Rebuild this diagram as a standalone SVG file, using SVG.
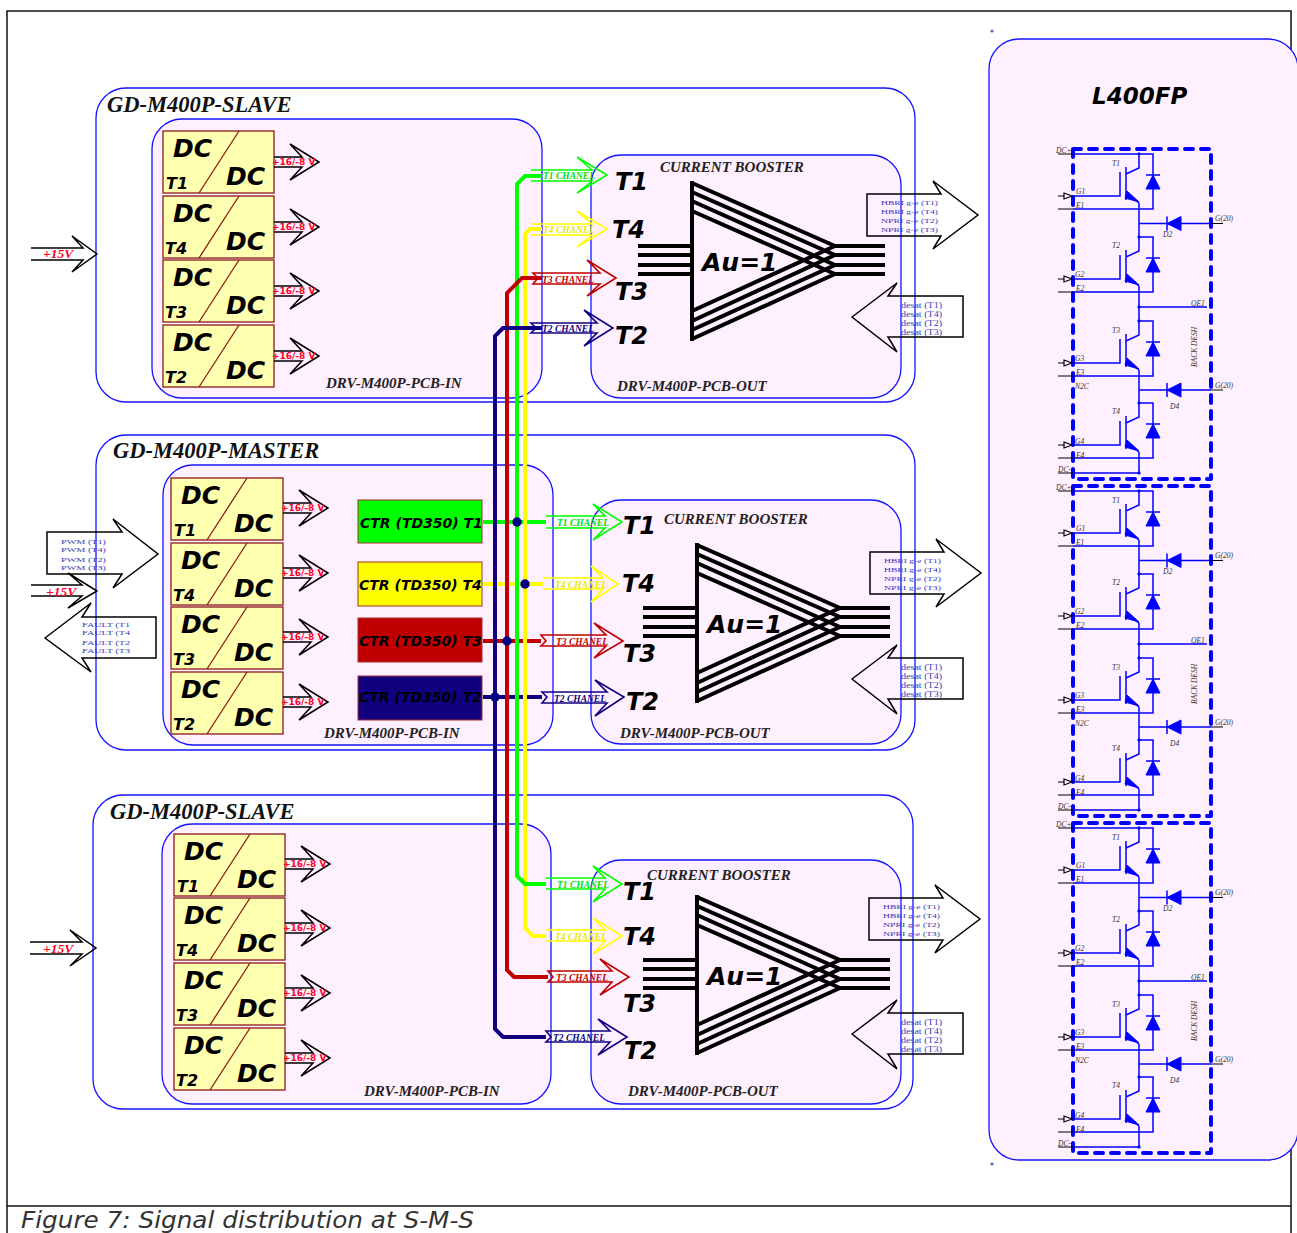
<svg xmlns="http://www.w3.org/2000/svg" width="1297" height="1233" viewBox="0 0 1297 1233">
<style>
.box{fill:#fff;stroke:#1414ff;stroke-width:1.3}
.pk{fill:#fff0ff;stroke:#1414ff;stroke-width:1.3}
.t{font-family:"Liberation Serif",serif;font-weight:bold;font-style:italic;fill:#111}
.title{font-size:22.5px}
.drv{font-size:15px;fill:#222}
.cb{font-size:15px;fill:#222}
.v{font-family:"DejaVu Sans",sans-serif;font-weight:bold;font-style:italic;fill:#000}
.dc{font-size:25px}
.tn{font-size:16px}
.big{font-size:24px}
.au{font-size:25px}
.ctr{font-size:14px}
.dcb{fill:#ffffb0;stroke:#8b1a1a;stroke-width:1.3}
.dia{stroke:#8b1a1a;stroke-width:1.3;fill:none}
.a{fill:none;stroke:#000;stroke-width:1.5}
.v16{font-family:"DejaVu Sans",sans-serif;font-weight:bold;font-size:9px;fill:#ff0028}
.v15{font-family:"Liberation Serif",serif;font-style:italic;font-weight:bold;font-size:13.5px;fill:#ff0028}
.sig{font-family:"Liberation Serif",serif;font-size:7px;fill:#3a3ab8}
.sd{font-size:8px}
.ch{font-family:"Liberation Serif",serif;font-weight:bold;font-style:italic;font-size:9.5px}
.w{fill:none;stroke-width:4;stroke-linejoin:miter}
.g{stroke:#00ff00;fill:none}.y{stroke:#ffff00;fill:none}.r{stroke:#c00000;fill:none}.n{stroke:#100080;fill:none}
.a2{stroke-width:1.6;fill:none}
.tri{stroke:#000;stroke-width:4;fill:none}
.b1{stroke:#0000ff;stroke-width:1.5;fill:none}
.k1{stroke:#000;stroke-width:1.2;fill:none}
.bf{fill:#0000ff;stroke:#0000ff;stroke-width:1}
.dash{fill:none;stroke:#0000ff;stroke-width:4;stroke-dasharray:8 8;stroke-linecap:round;stroke-linejoin:round}
.m{font-family:"Liberation Serif",serif;font-style:italic;font-size:7.5px;fill:#333}
</style>
<defs>
<path id="o16" class="a" d="M0,-5 H28 L16,-18 L45,0 L16,18 L28,5 H0"/>
<g id="booster">
<path class="tri" d="M692,181 V341 M638,246 H692 M638,255 H692 M638,265 H692 M638,274 H692 M835,246 H885 M835,255 H885 M835,265 H885 M835,274 H885 M692,183 L835,246 M692,192 L835,255 M692,201 L835,265 M692,211 L835,274 M692,339 L835,274 M692,330 L835,265 M692,321 L835,255 M692,311 L835,246"/>
</g>
<path id="outA" class="a" d="M867,194 H941 L933,181 L978,215 L933,249 L941,236 H867 Z"/>
<path id="desA" class="a" d="M852,317 L897,283 L888,296 H963 V337 H888 L897,352 Z"/>
<g id="igbt">
<path class="b1" d="M0,0 V14 L-13,20 M-13,13 V46 M-19,18 V42 H-66 M-13,39 L0,49 M0,0 H14 V55 H-66"/>
<path class="k1" d="M-81,42 H-75 M-75,39 L-67,42 L-75,45 Z M-81,55 H-66"/>
<path class="bf" d="M-12,37 L0,48 L-14,44 Z"/>
<path class="bf" d="M14,21 L21,35 H7 Z"/>
<path class="b1" d="M7,21 H21"/>
<circle class="bf" r="1.2"/>
</g>
<g id="diode"><path class="b1" d="M0,-7 V7"/><path class="bf" d="M0,0 L14,-7 V7 Z"/></g>
</defs>
<rect width="1297" height="1233" fill="#fff"/>
<path d="M7,1233 V11 H1291 V1233 M7,1206 H1291" fill="none" stroke="#111" stroke-width="1.5"/>
<text x="21" y="1227.500" font-family="'DejaVu Sans',sans-serif" font-style="italic" font-size="22.500" textLength="453" lengthAdjust="spacingAndGlyphs" fill="#333">Figure 7: Signal distribution at S-M-S</text>

<g id="slave1">
<rect class="box" x="96" y="88" width="819" height="314" rx="30"/>
<text class="t title" x="107" y="112">GD-M400P-SLAVE</text>
<rect class="pk" x="152" y="119" width="390" height="279" rx="30"/>
<text class="t drv" x="326" y="388">DRV-M400P-PCB-IN</text>
<rect class="pk" x="591" y="155" width="310" height="243" rx="30"/>
<text class="t drv" x="617" y="391">DRV-M400P-PCB-OUT</text>
<text class="t cb" x="660" y="172">CURRENT BOOSTER</text>
</g>
<g id="master">
<rect class="box" x="96" y="435" width="819" height="315" rx="30"/>
<text class="t title" x="113" y="458">GD-M400P-MASTER</text>
<rect class="pk" x="163" y="465" width="390" height="280" rx="30"/>
<text class="t drv" x="324" y="738">DRV-M400P-PCB-IN</text>
<rect class="pk" x="591" y="500" width="310" height="244" rx="30"/>
<text class="t drv" x="620" y="738">DRV-M400P-PCB-OUT</text>
<text class="t cb" x="664" y="524">CURRENT BOOSTER</text>
</g>
<g id="slave3">
<rect class="box" x="93" y="795" width="820" height="314" rx="30"/>
<text class="t title" x="110" y="819">GD-M400P-SLAVE</text>
<rect class="pk" x="162" y="824" width="389" height="280" rx="30"/>
<text class="t drv" x="364" y="1096">DRV-M400P-PCB-IN</text>
<rect class="pk" x="591" y="860" width="310" height="244" rx="30"/>
<text class="t drv" x="628" y="1096">DRV-M400P-PCB-OUT</text>
<text class="t cb" x="647" y="880">CURRENT BOOSTER</text>
</g>

<g id="dc-s1-t1" transform="translate(163,131)"><rect class="dcb" width="111" height="62"/><path class="dia" d="M36,62 L76,0"/><text class="v dc" x="10" y="26">DC</text><text class="v dc" x="63" y="54">DC</text><text class="v tn" x="3" y="58">T1</text><use href="#o16" x="111" y="31"/><text class="v16" x="109" y="34">+16/-8 V</text></g>
<g id="dc-s1-t4" transform="translate(163,196)"><rect class="dcb" width="111" height="62"/><path class="dia" d="M36,62 L76,0"/><text class="v dc" x="10" y="26">DC</text><text class="v dc" x="63" y="54">DC</text><text class="v tn" x="2" y="58">T4</text><use href="#o16" x="111" y="31"/><text class="v16" x="109" y="34">+16/-8 V</text></g>
<g id="dc-s1-t3" transform="translate(163,260)"><rect class="dcb" width="111" height="62"/><path class="dia" d="M36,62 L76,0"/><text class="v dc" x="10" y="26">DC</text><text class="v dc" x="63" y="54">DC</text><text class="v tn" x="2" y="58">T3</text><use href="#o16" x="111" y="31"/><text class="v16" x="109" y="34">+16/-8 V</text></g>
<g id="dc-s1-t2" transform="translate(163,325)"><rect class="dcb" width="111" height="62"/><path class="dia" d="M36,62 L76,0"/><text class="v dc" x="10" y="26">DC</text><text class="v dc" x="63" y="54">DC</text><text class="v tn" x="2" y="58">T2</text><use href="#o16" x="111" y="31"/><text class="v16" x="109" y="34">+16/-8 V</text></g>

<g id="dc-m-t1" transform="translate(171,478)"><rect class="dcb" width="112" height="62"/><path class="dia" d="M36,62 L76,0"/><text class="v dc" x="10" y="26">DC</text><text class="v dc" x="63" y="54">DC</text><text class="v tn" x="3" y="58">T1</text><use href="#o16" x="112" y="30"/><text class="v16" x="110" y="33">+16/-8 V</text></g>
<g id="dc-m-t4" transform="translate(171,543)"><rect class="dcb" width="112" height="62"/><path class="dia" d="M36,62 L76,0"/><text class="v dc" x="10" y="26">DC</text><text class="v dc" x="63" y="54">DC</text><text class="v tn" x="2" y="58">T4</text><use href="#o16" x="112" y="30"/><text class="v16" x="110" y="33">+16/-8 V</text></g>
<g id="dc-m-t3" transform="translate(171,607)"><rect class="dcb" width="112" height="62"/><path class="dia" d="M36,62 L76,0"/><text class="v dc" x="10" y="26">DC</text><text class="v dc" x="63" y="54">DC</text><text class="v tn" x="2" y="58">T3</text><use href="#o16" x="112" y="30"/><text class="v16" x="110" y="33">+16/-8 V</text></g>
<g id="dc-m-t2" transform="translate(171,672)"><rect class="dcb" width="112" height="62"/><path class="dia" d="M36,62 L76,0"/><text class="v dc" x="10" y="26">DC</text><text class="v dc" x="63" y="54">DC</text><text class="v tn" x="2" y="58">T2</text><use href="#o16" x="112" y="30"/><text class="v16" x="110" y="33">+16/-8 V</text></g>

<g id="dc-s3-t1" transform="translate(174,834)"><rect class="dcb" width="111" height="62"/><path class="dia" d="M36,62 L76,0"/><text class="v dc" x="10" y="26">DC</text><text class="v dc" x="63" y="54">DC</text><text class="v tn" x="3" y="58">T1</text><use href="#o16" x="111" y="30"/><text class="v16" x="109" y="33">+16/-8 V</text></g>
<g id="dc-s3-t4" transform="translate(174,898)"><rect class="dcb" width="111" height="62"/><path class="dia" d="M36,62 L76,0"/><text class="v dc" x="10" y="26">DC</text><text class="v dc" x="63" y="54">DC</text><text class="v tn" x="2" y="58">T4</text><use href="#o16" x="111" y="30"/><text class="v16" x="109" y="33">+16/-8 V</text></g>
<g id="dc-s3-t3" transform="translate(174,963)"><rect class="dcb" width="111" height="62"/><path class="dia" d="M36,62 L76,0"/><text class="v dc" x="10" y="26">DC</text><text class="v dc" x="63" y="54">DC</text><text class="v tn" x="2" y="58">T3</text><use href="#o16" x="111" y="30"/><text class="v16" x="109" y="33">+16/-8 V</text></g>
<g id="dc-s3-t2" transform="translate(174,1028)"><rect class="dcb" width="111" height="62"/><path class="dia" d="M36,62 L76,0"/><text class="v dc" x="10" y="26">DC</text><text class="v dc" x="63" y="54">DC</text><text class="v tn" x="2" y="58">T2</text><use href="#o16" x="111" y="30"/><text class="v16" x="109" y="33">+16/-8 V</text></g>

<g id="ctr-t1"><rect x="358" y="500" width="124" height="43" fill="#00ff00" stroke="#a03030"/><text class="v ctr" x="360" y="528">CTR (TD350) T1</text></g>
<g id="ctr-t4"><rect x="358" y="562" width="124" height="44" fill="#ffff00" stroke="#a03030"/><text class="v ctr" x="359" y="590">CTR (TD350) T4</text></g>
<g id="ctr-t3"><rect x="358" y="618" width="124" height="44" fill="#c00000" stroke="#a03030"/><text class="v ctr" x="359" y="646">CTR (TD350) T3</text></g>
<g id="ctr-t2"><rect x="358" y="676" width="124" height="44" fill="#100080" stroke="#a03030"/><text class="v ctr" x="359" y="702">CTR (TD350) T2</text></g>

<g id="connectors">
<path class="w g" d="M483,522 H546"/>
<path class="w y" d="M483,584 H543"/>
<path class="w r" d="M483,641 H541"/>
<path class="w n" d="M483,697 H542"/>
<path class="w y" d="M546,936 H533 L525,928 V234 L530,229 H542"/>
<path class="w g" d="M546,884 H525 L517,876 V184 L525,176 H542"/>
<path class="w r" d="M548,977 H514 L507,970 V293 L522,278 H542"/>
<path class="w n" d="M546,1037 H503 L495,1029 V336 L503,328 H542"/>
<g fill="#000080"><circle cx="517" cy="522" r="4.7"/><circle cx="525" cy="584" r="4.7"/><circle cx="507" cy="641" r="4.7"/><circle cx="495" cy="697" r="4.7"/></g>
</g>

<g id="inputs">
<path class="a" d="M31,248 H83 L72,236 L97,254 L72,272 L83,260 H31"/>
<text class="v15" x="43" y="258">+15V</text>
<path class="a" d="M31,585 H82 L68,573 L97,591 L68,608 L82,596 H31"/>
<text class="v15" x="46" y="596">+15V</text>
<path class="a" d="M30,942 H82 L70,930 L96,948 L70,966 L82,954 H30"/>
<text class="v15" x="43" y="953">+15V</text>
<path class="a" d="M47,532 H122 L113,519 L158,554 L113,588 L122,574 H47 Z"/>
<g class="sig"><text x="61" y="544" textLength="45" lengthAdjust="spacingAndGlyphs">PWM (T1)</text><text x="61" y="552" textLength="45" lengthAdjust="spacingAndGlyphs">PWM (T4)</text><text x="61" y="562" textLength="45" lengthAdjust="spacingAndGlyphs">PWM (T2)</text><text x="61" y="570" textLength="45" lengthAdjust="spacingAndGlyphs">PWM (T3)</text></g>
<path class="a" d="M45,638 L91,603 L82,617 H156 V658 H82 L91,672 Z"/>
<g class="sig"><text x="82" y="627" textLength="48" lengthAdjust="spacingAndGlyphs">FAULT (T1</text><text x="82" y="635" textLength="48" lengthAdjust="spacingAndGlyphs">FAULT (T4</text><text x="82" y="645" textLength="48" lengthAdjust="spacingAndGlyphs">FAULT (T2</text><text x="82" y="653" textLength="48" lengthAdjust="spacingAndGlyphs">FAULT (T3</text></g>
</g>

<g id="channels">
<path class="a2" stroke="#00ff00" d="M531,170 H592 L577,157 L607,175 L577,193 L592,181 H531"/>
<text class="ch" fill="#00e000" x="543" y="179">T1 CHANEL</text>
<path class="a2" stroke="#ffff00" d="M531,224 H592 L577,211 L607,229 L577,247 L592,235 H531"/>
<text class="ch" fill="#e8e800" x="543" y="233">T4 CHANEL</text>
<path class="a2" stroke="#c00000" d="M533,273 H600 L587,260 L616,278 L587,296 L600,284 H533 L538,278 Z"/>
<text class="ch" fill="#c00000" x="542" y="283">T3 CHANEL</text>
<path class="a2" stroke="#100080" d="M531,323 H597 L584,310 L613,328 L584,346 L597,333 H531 L536,328 Z"/>
<text class="ch" fill="#100080" x="542" y="332">T2 CHANEL</text>

<path class="a2" stroke="#00ff00" d="M546,516 H605 L593,504 L622,522 L593,540 L605,528 H546"/>
<text class="ch" fill="#00e000" x="557" y="526">T1 CHANEL</text>
<path class="a2" stroke="#ffff00" d="M543,578 H603 L591,566 L618,584 L591,602 L603,589 H543"/>
<text class="ch" fill="#e8e800" x="555" y="588">T4 CHANEL</text>
<path class="a2" stroke="#c00000" d="M541,635 H606 L594,623 L623,641 L594,658 L606,646 H541 L546,641 Z"/>
<text class="ch" fill="#c00000" x="556" y="645">T3 CHANEL</text>
<path class="a2" stroke="#100080" d="M542,692 H607 L595,680 L624,697 L595,716 L607,703 H542 L547,697 Z"/>
<text class="ch" fill="#100080" x="554" y="702">T2 CHANEL</text>

<path class="a2" stroke="#00ff00" d="M546,878 H605 L593,866 L622,884 L593,902 L605,889 H546"/>
<text class="ch" fill="#00e000" x="557" y="888">T1 CHANEL</text>
<path class="a2" stroke="#ffff00" d="M546,930 H605 L593,918 L622,936 L593,954 L605,941 H546"/>
<text class="ch" fill="#e8e800" x="555" y="940">T4 CHANEL</text>
<path class="a2" stroke="#c00000" d="M548,971 H612 L600,959 L629,977 L600,995 L612,982 H548 L553,977 Z"/>
<text class="ch" fill="#c00000" x="556" y="981">T3 CHANEL</text>
<path class="a2" stroke="#100080" d="M546,1031 H610 L598,1019 L627,1037 L598,1055 L610,1042 H546 L551,1037 Z"/>
<text class="ch" fill="#100080" x="553" y="1041">T2 CHANEL</text>
</g>

<g id="booster-1">
<use href="#booster"/>
<text class="v au" x="702" y="271">Au=1</text>
<text class="v big" x="615" y="190">T1</text><text class="v big" x="612" y="238">T4</text><text class="v big" x="615" y="300">T3</text><text class="v big" x="615" y="344">T2</text>
</g>
<g id="booster-2">
<use href="#booster" x="5" y="362"/>
<text class="v au" x="707" y="633">Au=1</text>
<text class="v big" x="623" y="534">T1</text><text class="v big" x="622" y="592">T4</text><text class="v big" x="623" y="662">T3</text><text class="v big" x="626" y="710">T2</text>
</g>
<g id="booster-3">
<use href="#booster" x="5" y="714"/>
<text class="v au" x="707" y="985">Au=1</text>
<text class="v big" x="623" y="900">T1</text><text class="v big" x="623" y="945">T4</text><text class="v big" x="623" y="1012">T3</text><text class="v big" x="624" y="1059">T2</text>
</g>

<g id="outputs">
<use href="#outA"/>
<g class="sig"><text x="881" y="205" textLength="57" lengthAdjust="spacingAndGlyphs">HBRI g-e (T1)</text><text x="881" y="213.500" textLength="57" lengthAdjust="spacingAndGlyphs">HBRI g-e (T4)</text><text x="881" y="222.500" textLength="57" lengthAdjust="spacingAndGlyphs">NPRI g-e (T2)</text><text x="881" y="231.500" textLength="57" lengthAdjust="spacingAndGlyphs">NPRI g-e (T3)</text></g>
<use href="#desA"/>
<g class="sig sd"><text x="901" y="307.500" textLength="41" lengthAdjust="spacingAndGlyphs">desat (T1)</text><text x="901" y="316.500" textLength="41" lengthAdjust="spacingAndGlyphs">desat (T4)</text><text x="901" y="325.500" textLength="41" lengthAdjust="spacingAndGlyphs">desat (T2)</text><text x="901" y="334.500" textLength="41" lengthAdjust="spacingAndGlyphs">desat (T3)</text></g>
<use href="#outA" x="3" y="358"/>
<g class="sig"><text x="884" y="563" textLength="57" lengthAdjust="spacingAndGlyphs">HBRI g-e (T1)</text><text x="884" y="571.500" textLength="57" lengthAdjust="spacingAndGlyphs">HBRI g-e (T4)</text><text x="884" y="580.500" textLength="57" lengthAdjust="spacingAndGlyphs">NPRI g-e (T2)</text><text x="884" y="589.500" textLength="57" lengthAdjust="spacingAndGlyphs">NPRI g-e (T3)</text></g>
<use href="#desA" y="362"/>
<g class="sig sd"><text x="901" y="669.500" textLength="41" lengthAdjust="spacingAndGlyphs">desat (T1)</text><text x="901" y="678.500" textLength="41" lengthAdjust="spacingAndGlyphs">desat (T4)</text><text x="901" y="687.500" textLength="41" lengthAdjust="spacingAndGlyphs">desat (T2)</text><text x="901" y="696.500" textLength="41" lengthAdjust="spacingAndGlyphs">desat (T3)</text></g>
<use href="#outA" x="2" y="704"/>
<g class="sig"><text x="883" y="909" textLength="57" lengthAdjust="spacingAndGlyphs">HBRI g-e (T1)</text><text x="883" y="917.500" textLength="57" lengthAdjust="spacingAndGlyphs">HBRI g-e (T4)</text><text x="883" y="926.500" textLength="57" lengthAdjust="spacingAndGlyphs">NPRI g-e (T2)</text><text x="883" y="935.500" textLength="57" lengthAdjust="spacingAndGlyphs">NPRI g-e (T3)</text></g>
<use href="#desA" y="717"/>
<g class="sig sd"><text x="901" y="1024.500" textLength="41" lengthAdjust="spacingAndGlyphs">desat (T1)</text><text x="901" y="1033.500" textLength="41" lengthAdjust="spacingAndGlyphs">desat (T4)</text><text x="901" y="1042.500" textLength="41" lengthAdjust="spacingAndGlyphs">desat (T2)</text><text x="901" y="1051.500" textLength="41" lengthAdjust="spacingAndGlyphs">desat (T3)</text></g>
</g>

<g id="l400fp">
<rect class="pk" x="989" y="39" width="309" height="1121" rx="30"/>
<text class="v" font-size="23" x="1092" y="104">L400FP</text>
<circle cx="992" cy="31" r="1.6" fill="#5070c0"/><circle cx="992" cy="1164" r="1.6" fill="#5070c0"/>
</g>

<g id="module-1">
<rect class="dash" x="1073" y="149" width="138" height="330"/>
<use href="#igbt" x="1139" y="154"/><use href="#igbt" x="1139" y="237"/><use href="#igbt" x="1139" y="321"/><use href="#igbt" x="1139" y="403"/>
<path class="b1" d="M1139,203 V237 M1139,286 V321 M1139,370 V403 M1139,452 V473 H1073 M1139,223.500 H1211 M1139,307 H1207 M1139,390 H1211"/>
<path class="k1" d="M1058,154 H1073 M1058,473 H1073 M1211,223.500 H1223 M1211,390 H1223"/>
<path class="b1" d="M1073,154 H1139"/>
<use href="#diode" x="1167" y="223.500"/><use href="#diode" x="1167" y="390"/>
<circle class="bf" cx="1139" cy="307" r="1.2"/><circle class="bf" cx="1139" cy="473" r="1.2"/>
<g class="m"><text x="1056" y="153">DC+</text><text x="1112" y="166">T1</text><text x="1076" y="194">G1</text><text x="1076" y="208">E1</text><text x="1215" y="221">G(20)</text><text x="1163" y="237">D2</text><text x="1112" y="248">T2</text><text x="1075" y="277">G2</text><text x="1076" y="291">E2</text><text x="1191" y="306">QE1</text><text x="1112" y="333">T3</text><text x="1075" y="361">G3</text><text x="1076" y="375">E3</text><text x="1075" y="389">N2C</text><text x="1215" y="388">G(20)</text><text x="1170" y="409">D4</text><text x="1112" y="414">T4</text><text x="1075" y="444">G4</text><text x="1076" y="458">E4</text><text x="1058" y="472">DC-</text><text transform="translate(1197,367) rotate(-90)">BACK DESH</text></g>
</g>
<g id="module-2" transform="translate(0,337)">
<rect class="dash" x="1073" y="149" width="138" height="330"/>
<use href="#igbt" x="1139" y="154"/><use href="#igbt" x="1139" y="237"/><use href="#igbt" x="1139" y="321"/><use href="#igbt" x="1139" y="403"/>
<path class="b1" d="M1139,203 V237 M1139,286 V321 M1139,370 V403 M1139,452 V473 H1073 M1139,223.500 H1211 M1139,307 H1207 M1139,390 H1211"/>
<path class="k1" d="M1058,154 H1073 M1058,473 H1073 M1211,223.500 H1223 M1211,390 H1223"/>
<path class="b1" d="M1073,154 H1139"/>
<use href="#diode" x="1167" y="223.500"/><use href="#diode" x="1167" y="390"/>
<circle class="bf" cx="1139" cy="307" r="1.2"/><circle class="bf" cx="1139" cy="473" r="1.2"/>
<g class="m"><text x="1056" y="153">DC+</text><text x="1112" y="166">T1</text><text x="1076" y="194">G1</text><text x="1076" y="208">E1</text><text x="1215" y="221">G(20)</text><text x="1163" y="237">D2</text><text x="1112" y="248">T2</text><text x="1075" y="277">G2</text><text x="1076" y="291">E2</text><text x="1191" y="306">QE1</text><text x="1112" y="333">T3</text><text x="1075" y="361">G3</text><text x="1076" y="375">E3</text><text x="1075" y="389">N2C</text><text x="1215" y="388">G(20)</text><text x="1170" y="409">D4</text><text x="1112" y="414">T4</text><text x="1075" y="444">G4</text><text x="1076" y="458">E4</text><text x="1058" y="472">DC-</text><text transform="translate(1197,367) rotate(-90)">BACK DESH</text></g>
</g>
<g id="module-3" transform="translate(0,674)">
<rect class="dash" x="1073" y="149" width="138" height="330"/>
<use href="#igbt" x="1139" y="154"/><use href="#igbt" x="1139" y="237"/><use href="#igbt" x="1139" y="321"/><use href="#igbt" x="1139" y="403"/>
<path class="b1" d="M1139,203 V237 M1139,286 V321 M1139,370 V403 M1139,452 V473 H1073 M1139,223.500 H1211 M1139,307 H1207 M1139,390 H1211"/>
<path class="k1" d="M1058,154 H1073 M1058,473 H1073 M1211,223.500 H1223 M1211,390 H1223"/>
<path class="b1" d="M1073,154 H1139"/>
<use href="#diode" x="1167" y="223.500"/><use href="#diode" x="1167" y="390"/>
<circle class="bf" cx="1139" cy="307" r="1.2"/><circle class="bf" cx="1139" cy="473" r="1.2"/>
<g class="m"><text x="1056" y="153">DC+</text><text x="1112" y="166">T1</text><text x="1076" y="194">G1</text><text x="1076" y="208">E1</text><text x="1215" y="221">G(20)</text><text x="1163" y="237">D2</text><text x="1112" y="248">T2</text><text x="1075" y="277">G2</text><text x="1076" y="291">E2</text><text x="1191" y="306">QE1</text><text x="1112" y="333">T3</text><text x="1075" y="361">G3</text><text x="1076" y="375">E3</text><text x="1075" y="389">N2C</text><text x="1215" y="388">G(20)</text><text x="1170" y="409">D4</text><text x="1112" y="414">T4</text><text x="1075" y="444">G4</text><text x="1076" y="458">E4</text><text x="1058" y="472">DC-</text><text transform="translate(1197,367) rotate(-90)">BACK DESH</text></g>
</g>
</svg>
